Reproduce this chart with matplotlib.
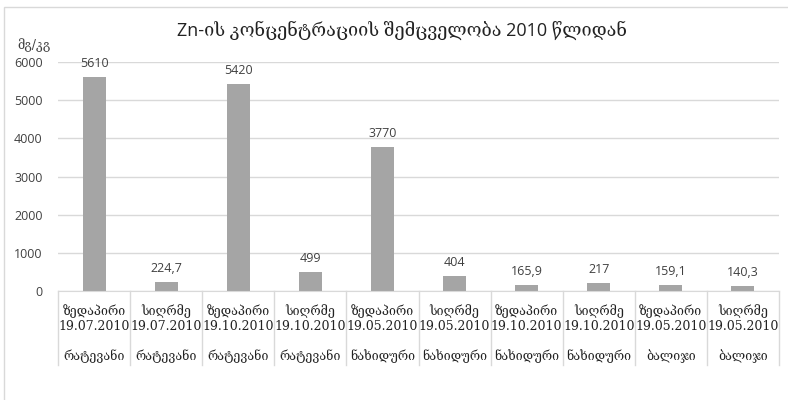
import matplotlib.pyplot as plt
from matplotlib.patches import Rectangle

# Zn content per sampling point
depths = ["ზედაპირი", "სიღრმე", "ზედაპირი", "სიღრმე", "ზედაპირი",
          "სიღრმე", "ზედაპირი", "სიღრმე", "ზედაპირი", "სიღრმე"]
dates = ["19.07.2010", "19.07.2010", "19.10.2010", "19.10.2010", "19.05.2010",
         "19.05.2010", "19.10.2010", "19.10.2010", "19.05.2010", "19.05.2010"]
places = ["რატევანი", "რატევანი", "რატევანი", "რატევანი", "ნახიდური",
          "ნახიდური", "ნახიდური", "ნახიდური", "ბალიჯი", "ბალიჯი"]
zn = [5610, 224.7, 5420, 499, 3770, 404, 165.9, 217, 159.1, 140.3]
yticks = [0, 1000, 2000, 3000, 4000, 5000, 6000]

GRID = "#d9d9d9"
TXT = "#404040"
serif = ["DejaVu Serif", "DejaVu Sans"]

fig = plt.figure(figsize=(7.88, 4.0), dpi=100)
fig.patches.append(Rectangle((4 / 788, -0.1), 1.2, 1.1 - 7 / 400,
                             transform=fig.transFigure, fill=False,
                             edgecolor=GRID, linewidth=1))
ax = fig.add_axes([58 / 788, 1 - 291 / 400, 721 / 788, 229 / 400])

x = list(range(len(zn)))
ax.bar(x, zn, width=0.32, color="#a5a5a5", zorder=2)
for xi, v in zip(x, zn):
    lab = f"{v:g}".replace(".", ",")
    ax.annotate(lab, (xi, v), xytext=(0, 5), textcoords="offset points",
                ha="center", va="bottom", fontsize=9, color=TXT,
                family="Open Sans")

ax.set_xlim(-0.5, len(zn) - 0.5)
ax.set_ylim(0, 6000)
ax.set_yticks(yticks)
ax.set_yticklabels([str(t) for t in yticks], family="Open Sans",
                   fontsize=9, color=TXT)
ax.tick_params(axis="y", length=0, pad=11)
ax.set_xticks([])
ax.grid(axis="y", color=GRID, linewidth=1, zorder=0)
for s in ["top", "right", "left"]:
    ax.spines[s].set_visible(False)
ax.spines["bottom"].set_color(GRID)

# two-level category axis
tr = ax.get_xaxis_transform()
for i in range(len(zn) + 1):
    ax.plot([i - 0.5, i - 0.5], [0, -0.323], transform=tr, color=GRID,
            linewidth=1, clip_on=False)
for xi in x:
    ax.text(xi, -0.087, depths[xi], transform=tr, ha="center", va="center",
            fontsize=9, family=serif, color="#222222")
    ax.text(xi, -0.153, dates[xi], transform=tr, ha="center", va="center",
            fontsize=9, family=serif, color="#222222")
    ax.text(xi, -0.284, places[xi], transform=tr, ha="center", va="center",
            fontsize=9, family=serif, color="#222222")

fig.text(0.51, 1 - 30 / 400, "Zn-ის კონცენტრაციის შემცველობა 2010 წლიდან",
         ha="center", va="center", fontsize=13,
         family=["Open Sans", "DejaVu Serif"], color="#222222")
fig.text(17 / 788, 1 - 45 / 400, "მგ/კგ", ha="left", va="center",
         fontsize=9, family=serif, color=TXT)

fig.savefig("out.png", dpi=100)
